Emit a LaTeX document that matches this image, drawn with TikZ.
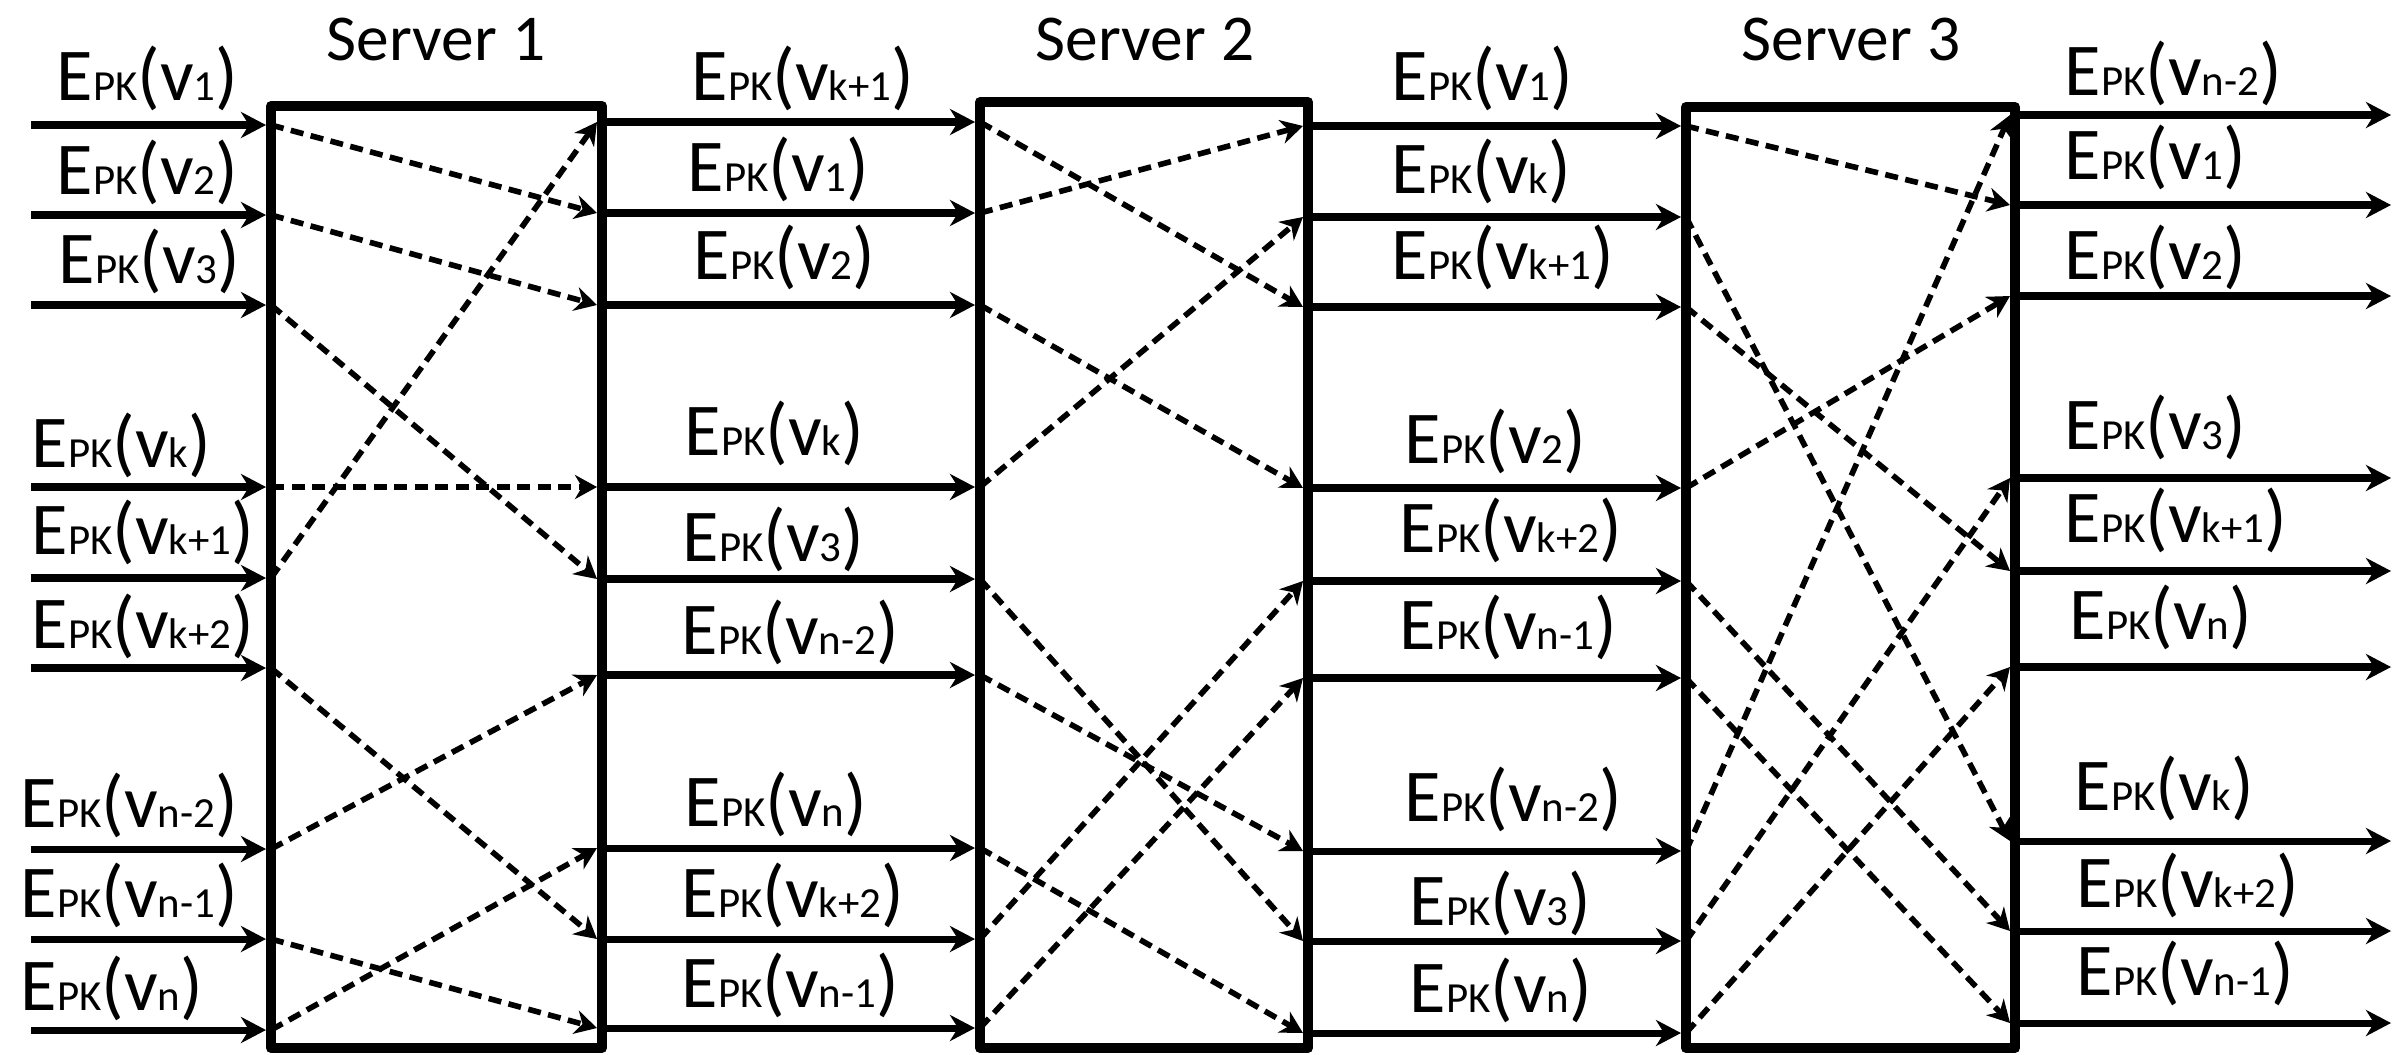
\documentclass[tikz,border=0pt]{standalone}
\usepackage{fontspec}
\setmainfont{Carlito}
\usetikzlibrary{arrows.meta}
\newcommand\labsize{\fontsize{21.2}{24}\selectfont}
\newcommand\subsize{\fontsize{12.2}{14}\selectfont}
\newcommand\ttlsize{\fontsize{18.6}{22}\selectfont}
\newcommand\epk[1]{E{\subsize PK}(v{\subsize #1})}
\begin{document}
\begin{tikzpicture}[x=0.01cm, y=-0.01cm,
  lab/.style={anchor=base west, inner sep=0pt, font=\labsize},
  ttl/.style={anchor=base, inner sep=0pt, font=\ttlsize},
  flow/.style={line width=2pt, -{Stealth[length=0.25cm,width=0.26cm,inset=0.08cm]}},
  swap/.style={line width=1.6pt, dash pattern=on 0.13cm off 0.075cm,
    -{Stealth[length=0.22cm,width=0.24cm,inset=0.07cm]}},
  srv/.style={line width=2.85pt, line join=round}]

\path[fill=white, use as bounding box] (0,0) rectangle (2404,1054);

% row positions of the four columns of ciphertext lines
\foreach \y [count=\r] in {125,215,305,487,578,668,849,939,1030} {
  \coordinate (a\r) at (31,\y);   \coordinate (A\r) at (266,\y);
  \coordinate (p\r) at (271,\y);
}
\foreach \y [count=\r] in {122,213,305,487,579,675,848,939,1028} {
  \coordinate (b\r) at (602,\y);  \coordinate (B\r) at (975,\y);
  \coordinate (q\r) at (597,\y);  \coordinate (u\r) at (980,\y);
}
\foreach \y [count=\r] in {126,217,307,488,581,678,851,941,1033} {
  \coordinate (c\r) at (1308,\y); \coordinate (C\r) at (1681,\y);
  \coordinate (w\r) at (1303,\y); \coordinate (m\r) at (1686,\y);
}
\foreach \y [count=\r] in {115,205,296,478,571,667,841,931,1023} {
  \coordinate (d\r) at (2015,\y); \coordinate (D\r) at (2391,\y);
  \coordinate (n\r) at (2010,\y);
}

% solid flows between the servers
\foreach \r in {1,...,9} {
  \draw[flow] (a\r) -- (A\r);
  \draw[flow] (b\r) -- (B\r);
  \draw[flow] (c\r) -- (C\r);
  \draw[flow] (d\r) -- (D\r);
}

% shuffles inside each server
\foreach \i/\o in {1/2,2/3,3/5,4/4,5/1,6/8,7/6,8/9,9/7}
  \draw[swap] (p\i) -- (q\o);
\foreach \i/\o in {1/3,2/1,3/4,4/2,5/8,6/7,7/9,8/5,9/6}
  \draw[swap] (u\i) -- (w\o);
\foreach \i/\o in {1/2,2/7,3/5,4/3,5/8,6/9,7/1,8/4,9/6}
  \draw[swap] (m\i) -- (n\o);

% server boxes
\draw[srv] (271,106) coordinate (S1nw) rectangle (602,1048) coordinate (S1se);
\draw[srv] (980,102) coordinate (S2nw) rectangle (1308,1048) coordinate (S2se);
\draw[srv] (1686,107) coordinate (S3nw) rectangle (2015,1048) coordinate (S3se);

\node[ttl] (T1) at (436,60) {Server 1};
\node[ttl] (T2) at (1145,60) {Server 2};
\node[ttl] (T3) at (1851,60) {Server 3};

% ciphertext labels
\foreach \x/\y/\s [count=\i] in {56/100/1, 56/194/2, 58/283/3, 31/467/k,
    31/554/k+1, 31/648/k+2, 20/827/n-2, 20/917/n-1, 20/1010/n}
  \node[lab] (L1-\i) at (\x,\y) {\epk{\s}};
\foreach \x/\y/\s [count=\i] in {691/100/k+1, 687/191/1, 693/279/2, 684/455/k,
    682/561/3, 681/654/n-2, 684/826/n, 681/917/k+2, 681/1007/n-1}
  \node[lab] (L2-\i) at (\x,\y) {\epk{\s}};
\foreach \x/\y/\s [count=\i] in {1391/100/1, 1391/193/k, 1391/279/k+1, 1404/463/2,
    1399/552/k+2, 1399/649/n-1, 1404/821/n-2, 1409/925/3, 1409/1012/n}
  \node[lab] (L3-\i) at (\x,\y) {\epk{\s}};
\foreach \x/\y/\s [count=\i] in {2064/95/n-2, 2064/179/1, 2064/279/2, 2064/449/3,
    2064/542/k+1, 2069/639/n, 2074/810/k, 2076/907/k+2, 2076/995/n-1}
  \node[lab] (L4-\i) at (\x,\y) {\epk{\s}};
\end{tikzpicture}
\end{document}
